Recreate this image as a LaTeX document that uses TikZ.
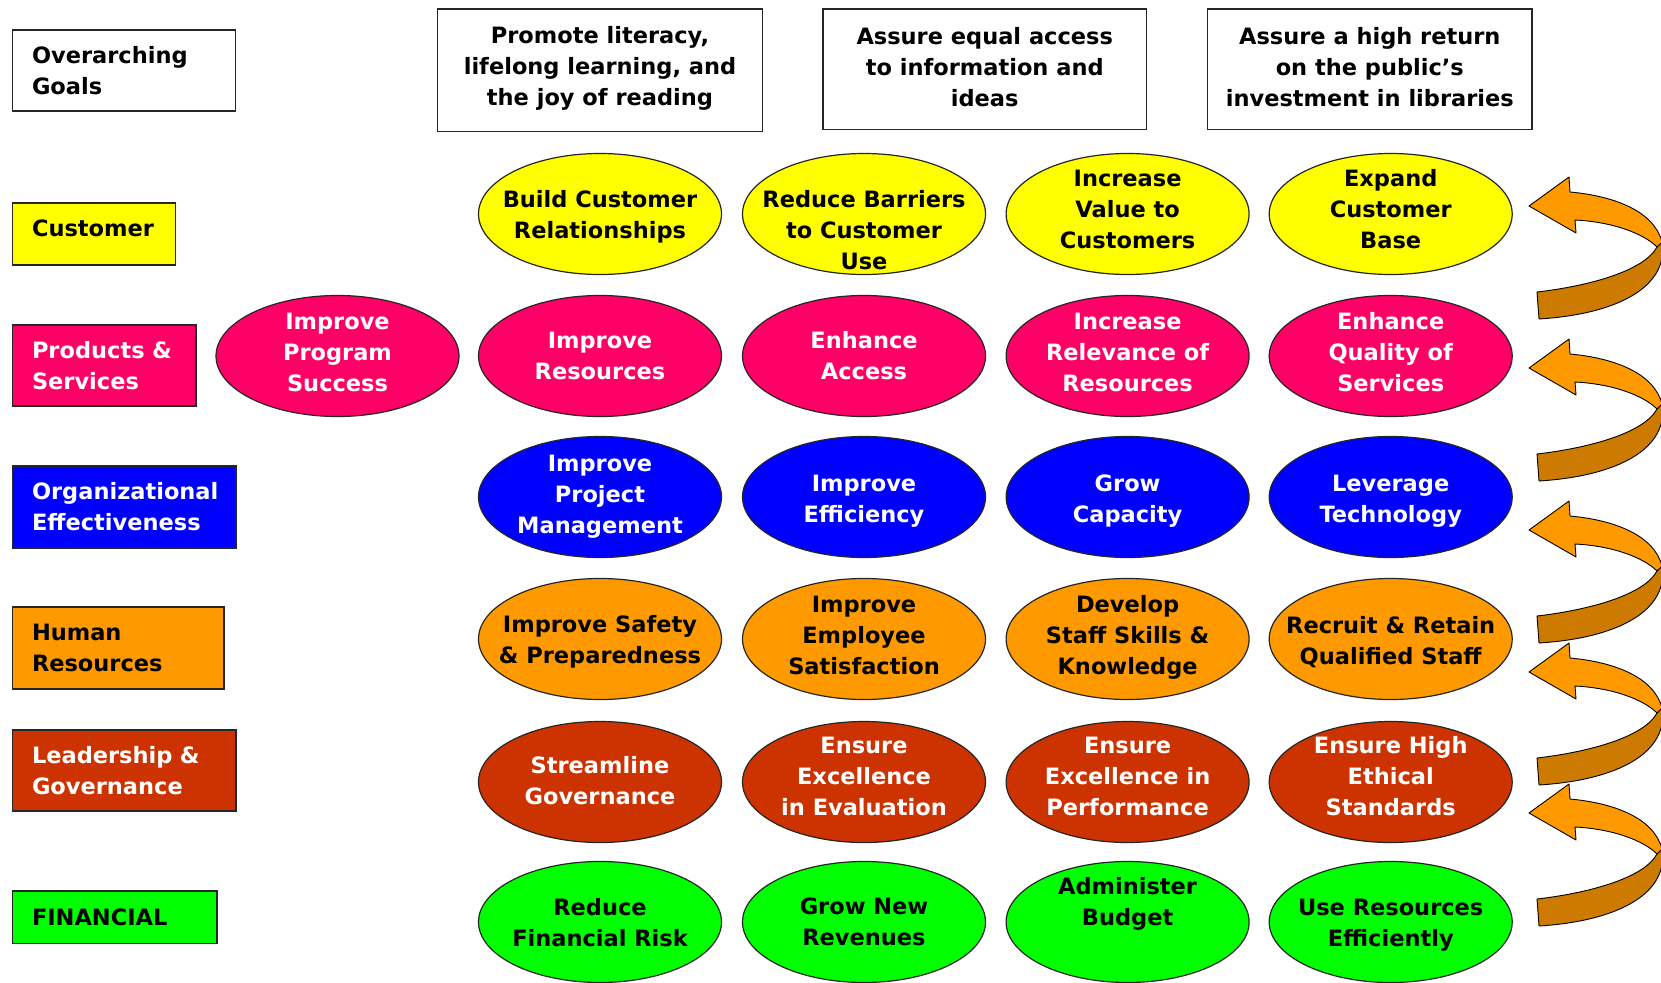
\documentclass[tikz,border=0pt]{standalone}
\usepackage{fontspec}
\setmainfont{DejaVu Sans}
\usetikzlibrary{shapes.geometric}
\definecolor{cyel}{HTML}{FFFF00}
\definecolor{cpink}{HTML}{FF0066}
\definecolor{cblue}{HTML}{0000FF}
\definecolor{corange}{HTML}{FF9900}
\definecolor{crust}{HTML}{CC3300}
\definecolor{cgreen}{HTML}{00FF00}
\definecolor{arrlight}{HTML}{FF9900}
\definecolor{arrdark}{HTML}{CC7A00}
\tikzset{
  txt/.style={font=\fontsize{22.5}{31}\selectfont\bfseries},
  catbox/.style={txt, draw=black!85, line width=1.5pt, rectangle, inner xsep=19.5pt, inner ysep=0pt, align=left},
  goalbox/.style={draw=black!85, line width=1.5pt, rectangle, fill=white, inner sep=0pt},
  gtext/.style={txt, align=center, inner sep=0pt},
  oval/.style={ellipse, draw=black!85, line width=1.2pt, minimum width=243pt, minimum height=121pt, inner sep=0pt},
  otext/.style={txt, align=center, inner sep=0pt},
  helix/.pic={
    \path[fill=arrdark, draw=black, line width=0.9pt, line join=round]
      (133,36) .. controls (140,80) and (90,108) .. (10,113) -- (8,86)
      .. controls (60,80) and (115,65) .. (128,41) -- cycle;
    \path[fill=arrlight, draw=black, line width=0.9pt, line join=round]
      (0,0) -- (40,-29) -- (41,-14) .. controls (85,-10) and (125,5) .. (133,36)
      -- (128,41) .. controls (115,28) and (85,16) .. (46,14) -- (47,27) -- cycle;
  }
}
\newcommand{\goaloval}[7][0]{%
  \node[oval, fill=#5] (#2) at (#3,#4) {};
  \node[otext, text=#6, yshift=#1pt] (#2t) at (#2) {#7};}
\begin{document}
\begin{tikzpicture}[x=1pt,y=-1pt]
\useasboundingbox (0,0) rectangle (1661,982);
\fill[white] (0,0) rectangle (1661,982);

% category boxes
\node[catbox, fill=white, minimum width=223pt, minimum height=81pt, text width=184pt] (goals) at (124,70.5) {Overarching\\Goals};
\node[catbox, fill=cyel, minimum width=163pt, minimum height=62pt, text width=124pt, text depth=11pt] (cust) at (94,234) {Customer};
\node[catbox, fill=cpink, text=white, minimum width=183.5pt, minimum height=81pt, text width=144.5pt] (prod) at (104.25,365.5) {Products \&\\Services};
\node[catbox, fill=cblue, text=white, minimum width=223.5pt, minimum height=82pt, text width=184.5pt] (org) at (124.25,507) {Organizational\\Effectiveness};
\node[catbox, fill=corange, minimum width=211.5pt, minimum height=82pt, text width=172.5pt] (hr) at (118.25,648) {Human\\Resources};
\node[catbox, fill=crust, text=white, minimum width=223.5pt, minimum height=81pt, text width=184.5pt] (lead) at (124.25,770.5) {Leadership \&\\Governance};
\node[catbox, fill=cgreen, minimum width=204.5pt, minimum height=52.5pt, text width=165.5pt] (fin) at (114.75,917) {FINANCIAL};

% overarching goals
\node[goalbox, minimum width=325pt, minimum height=122.5pt] (g1) at (600,70.25) {};
\node[gtext, yshift=2pt] (g1t) at (g1) {Promote literacy,\\lifelong learning, and\\the joy of reading};
\node[goalbox, minimum width=323.7pt, minimum height=120.3pt] (g2) at (984.7,69.2) {};
\node[gtext, yshift=2pt] (g2t) at (g2) {Assure equal access\\to information and\\ideas};
\node[goalbox, minimum width=324.5pt, minimum height=120.3pt] (g3) at (1369.8,69.2) {};
\node[gtext, yshift=2pt] (g3t) at (g3) {Assure a high return\\on the public's\\investment in libraries};

% row 1: customer
\goaloval[-3]{a1}{600}{214}{cyel}{black}{Build Customer\\Relationships}
\goaloval[-16]{a2}{864}{214}{cyel}{black}{Reduce Barriers\\to Customer\\Use}
\goaloval[5]{a3}{1127.6}{214}{cyel}{black}{Increase\\Value to\\Customers}
\goaloval[5]{a4}{1390.7}{214}{cyel}{black}{Expand\\Customer\\Base}

% row 2: products & services
\goaloval[4]{b0}{337.5}{356}{cpink}{white}{Improve\\Program\\Success}
\goaloval{b1}{600}{356}{cpink}{white}{Improve\\Resources}
\goaloval{b2}{864}{356}{cpink}{white}{Enhance\\Access}
\goaloval[4]{b3}{1127.6}{356}{cpink}{white}{Increase\\Relevance of\\Resources}
\goaloval[4]{b4}{1390.7}{356}{cpink}{white}{Enhance\\Quality of\\Services}

% row 3: organizational effectiveness
\goaloval{c1}{600}{497}{cblue}{white}{Improve\\Project\\Management}
\goaloval[-4]{c2}{864}{497}{cblue}{white}{Improve\\Efficiency}
\goaloval[-4]{c3}{1127.6}{497}{cblue}{white}{Grow\\Capacity}
\goaloval[-4]{c4}{1390.7}{497}{cblue}{white}{Leverage\\Technology}

% row 4: human resources
\goaloval[-3]{d1}{600}{639}{corange}{black}{Improve Safety\\\& Preparedness}
\goaloval[4]{d2}{864}{639}{corange}{black}{Improve\\Employee\\Satisfaction}
\goaloval[2]{d3}{1127.6}{639}{corange}{black}{Develop\\Staff Skills \&\\Knowledge}
\goaloval[-3]{d4}{1390.7}{639}{corange}{black}{Recruit \& Retain\\Qualified Staff}

% row 5: leadership & governance
\goaloval[1]{e1}{600}{782}{crust}{white}{Streamline\\Governance}
\goaloval[6]{e2}{864}{782}{crust}{white}{Ensure\\Excellence\\in Evaluation}
\goaloval[6]{e3}{1127.6}{782}{crust}{white}{Ensure\\Excellence in\\Performance}
\goaloval[6]{e4}{1390.7}{782}{crust}{white}{Ensure High\\Ethical\\Standards}

% row 6: financial
\goaloval[-1]{f1}{600}{922}{cgreen}{black}{Reduce\\Financial Risk}
\goaloval{f2}{864}{922}{cgreen}{black}{Grow New\\Revenues}
\goaloval[18]{f3}{1127.6}{922}{cgreen}{black}{Administer\\Budget}
\goaloval[-3]{f4}{1390.7}{922}{cgreen}{black}{Use Resources\\Efficiently}

% curved arrows
\pic at (1529,206) {helix};
\pic at (1529,368) {helix};
\pic at (1529,530) {helix};
\pic at (1529,672) {helix};
\pic at (1529,813) {helix};
\end{tikzpicture}
\end{document}
